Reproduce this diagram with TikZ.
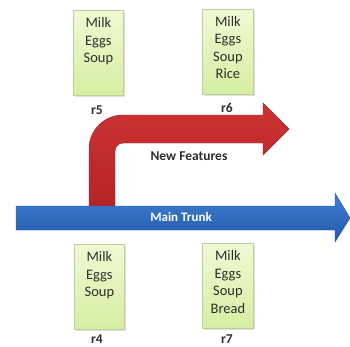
\documentclass[tikz,border=0pt]{standalone}
\usepackage{fontspec}
\setmainfont{Carlito}
\usetikzlibrary{calc}
\definecolor{trunkTop}{HTML}{3F80D4}
\definecolor{trunkBot}{HTML}{2458A8}
\definecolor{featTop}{HTML}{CC3333}
\definecolor{featBot}{HTML}{B52428}
\definecolor{featEdge}{HTML}{A01E22}
\definecolor{boxTop}{HTML}{F1F9D4}
\definecolor{boxBot}{HTML}{D5EEA2}
\definecolor{boxEdge}{HTML}{BFCF9C}
\definecolor{boxText}{HTML}{2E2E2E}
\tikzset{
  revbox/.style={draw=boxEdge, line width=0.8pt, top color=boxTop, bottom color=boxBot,
    minimum width=50pt, minimum height=85pt, inner sep=0pt, anchor=north west},
  revshadow/.style={fill=black!12},
  items/.style={anchor=north, inner sep=0pt, align=center, text=boxText,
    font=\fontsize{14.5}{17.5}\selectfont},
  revlabel/.style={inner sep=0pt, text=boxText, font=\fontsize{13.5}{15}\selectfont\bfseries},
}
\begin{document}
\begin{tikzpicture}[x=1pt,y=-1pt]
\useasboundingbox (0,0) rectangle (350,346);
\clip (0,0) rectangle (350,346);
\fill[white] (0,0) rectangle (350,346);

% feature branch: rises from the trunk, bends right, ends in an arrow head
\path[top color=featTop, bottom color=featBot, draw=featEdge, line width=0.4pt]
  (89,207) -- (89,149) .. controls (89,130.2) and (104.2,115) .. (123,115)
  -- (263,115) -- (263,103) -- (289,129) -- (263,155) -- (263,143)
  -- (123,143) .. controls (118.6,143) and (115,146.6) .. (115,151)
  -- (115,207) -- cycle;
\node[font=\fontsize{13.5}{15}\selectfont\bfseries, text=boxText, inner sep=0pt]
  (feat) at (189,156) {New Features};

% main trunk arrow
\path[top color=trunkTop, bottom color=trunkBot, draw=trunkBot, line width=0.4pt]
  (16,206) -- (335,206) -- (335,193) -- (350,218) -- (335,242) -- (335,230)
  -- (16,230) -- cycle;
\node[font=\fontsize{13}{15}\selectfont\bfseries, text=white, inner sep=0pt]
  (trunk) at (181,217) {Main Trunk};

% revision boxes with their soft shadows
\fill[revshadow] (75,12) rectangle (125,97);
\node[revbox] (r5box) at (73,10) {};
\node[items] (r5items) at ($(r5box.north)+(0,7.5)$) {Milk\\Eggs\\Soup};
\node[revlabel] (r5) at (97,110) {r5};

\fill[revshadow] (204,11) rectangle (255,96);
\node[revbox, minimum width=51pt] (r6box) at (202,9) {};
\node[items] (r6items) at ($(r6box.north)+(0,7)$) {Milk\\Eggs\\Soup\\Rice};
\node[revlabel] (r6) at (227,108) {r6};

\fill[revshadow] (76,246) rectangle (126,331);
\node[revbox] (r4box) at (74,244) {};
\node[items] (r4items) at ($(r4box.north)+(0,7.5)$) {Milk\\Eggs\\Soup};
\node[revlabel] (r4) at (97,339) {r4};

\fill[revshadow] (204,245) rectangle (255,330);
\node[revbox, minimum width=51pt] (r7box) at (202,243) {};
\node[items] (r7items) at ($(r7box.north)+(0,7.5)$) {Milk\\Eggs\\Soup\\Bread};
\node[revlabel] (r7) at (227,339) {r7};
\end{tikzpicture}
\end{document}
